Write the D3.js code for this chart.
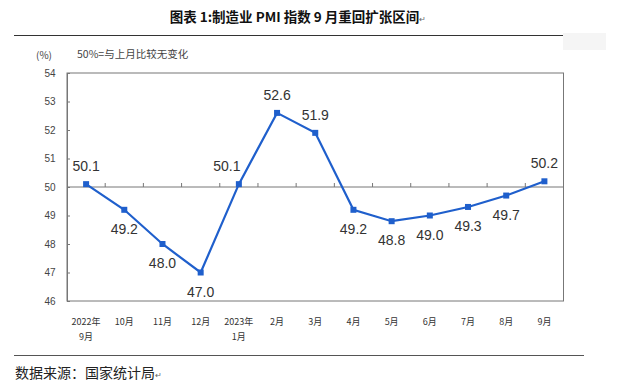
<!DOCTYPE html>
<html><head><meta charset="utf-8">
<script src="https://cdn.jsdelivr.net/npm/d3@7"></script>
<style>body{margin:0;background:#fff;}svg{display:block;}</style>
</head><body>
<svg id="c" width="640" height="386"></svg>
<script>
const categories = ["2022年|9月","10月","11月","12月","2023年|1月","2月","3月","4月","5月","6月","7月","8月","9月"];
const pmi = [50.1,49.2,48.0,47.0,50.1,52.6,51.9,49.2,48.8,49.0,49.3,49.7,50.2];
const yTicks = [46,47,48,49,50,51,52,53,54];
const labelSide = ["up","down","down","down","upleft","up","up","down","down","down","down","down","up"];

const svg = d3.select("#c");
const L=67, R=563.5, T=73, B=301;
const x = d3.scaleBand().domain(categories).range([L,R]);
const y = d3.scaleLinear().domain([46,54]).range([B,T]);
const cx = d => x(d)+x.bandwidth()/2;
const cjk = "'Noto Sans CJK SC',sans-serif";

// header
const title = svg.append("text").attr("x",298).attr("y",22).attr("text-anchor","middle")
  .attr("font-family",cjk).attr("font-weight","bold")
  .attr("font-size",13.5).attr("fill","#111");
title.append("tspan").text("图表 1:制造业 PMI 指数 9 月重回扩张区间");
title.append("tspan").attr("font-size",8).attr("font-weight","normal").attr("fill","#666").text("↵");
svg.append("line").attr("x1",14).attr("x2",582).attr("y1",35.5).attr("y2",35.5).attr("stroke","#333").attr("stroke-width",1);
svg.append("rect").attr("x",563).attr("y",33).attr("width",43).attr("height",17).attr("fill","#f5f5f5");
svg.append("line").attr("x1",14).attr("x2",584).attr("y1",355.5).attr("y2",355.5).attr("stroke","#555").attr("stroke-width",1);
const src = svg.append("text").attr("x",15).attr("y",378).attr("font-family",cjk)
  .attr("font-size",14).attr("fill","#222");
src.append("tspan").text("数据来源：国家统计局");
src.append("tspan").attr("font-size",8).attr("fill","#666").text("↵");

// unit notes
svg.append("text").attr("x",36).attr("y",59).attr("font-family",cjk)
  .attr("font-size",10).attr("fill","#444").text("(%)");
svg.append("text").attr("x",77).attr("y",58).attr("font-family",cjk)
  .attr("font-size",10.5).attr("fill","#444").text("50%=与上月比较无变化");

// frame
svg.append("rect").attr("x",L).attr("y",T).attr("width",R-L).attr("height",B-T)
  .attr("fill","none").attr("stroke","#777").attr("stroke-width",1);

// y axis
const yAxis = svg.append("g").attr("transform",`translate(${L},0)`)
  .call(d3.axisLeft(y).tickValues(yTicks).tickSize(-3).tickPadding(14).tickFormat(d3.format("d")));
yAxis.select(".domain").attr("stroke","#777");
yAxis.selectAll(".tick line").attr("stroke","#777");
yAxis.selectAll("text").attr("font-family","Liberation Sans, Arial, sans-serif").attr("font-size",10).attr("fill","#444").attr("text-anchor","middle").attr("dx",-3);

// x axis at 50
const xg = svg.append("g").attr("transform",`translate(0,${y(50)})`);
xg.append("line").attr("x1",L).attr("x2",R).attr("stroke","#777");
xg.selectAll("line.t").data(categories.slice(1)).join("line").attr("class","t")
  .attr("x1",d=>x(d)).attr("x2",d=>x(d)).attr("y1",0).attr("y2",-4).attr("stroke","#777");

// x labels
const xl = svg.append("g");
categories.forEach(c=>{
  const parts=c.split("|");
  parts.forEach((p,i)=>{
    xl.append("text").attr("x",cx(c)).attr("y",325+i*15).attr("text-anchor","middle")
      .attr("font-family",cjk).attr("font-size",9).attr("fill","#333").text(p);
  });
});

// line
const line = d3.line().x((d,i)=>cx(categories[i])).y(d=>y(d));
svg.append("path").datum(pmi).attr("d",line).attr("fill","none").attr("stroke","#1f5fcc").attr("stroke-width",2.2);
svg.selectAll("rect.m").data(pmi).join("rect").attr("class","m")
  .attr("x",(d,i)=>cx(categories[i])-3).attr("y",d=>y(d)-3).attr("width",6).attr("height",6).attr("fill","#1f5fcc");

// labels
svg.selectAll("text.v").data(pmi).join("text").attr("class","v")
  .attr("x",(d,i)=>cx(categories[i]) + (labelSide[i]==="upleft"?-12:0))
  .attr("y",(d,i)=>y(d) + (labelSide[i]==="down"?24:-13))
  .attr("text-anchor","middle").attr("font-family","Liberation Sans, Arial, sans-serif")
  .attr("font-size",14).attr("fill","#333").text(d=>d.toFixed(1));
</script>
</body></html>
